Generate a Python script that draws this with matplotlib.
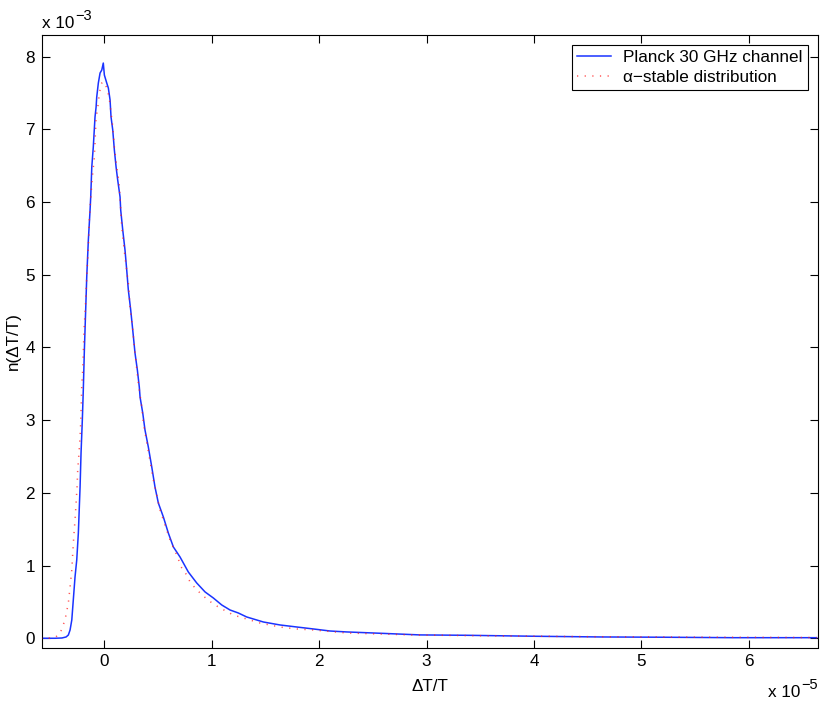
import numpy as np
import matplotlib
matplotlib.use("Agg")
import matplotlib.pyplot as plt
from matplotlib.ticker import FixedLocator, FuncFormatter

plt.rcParams['font.family'] = ['Liberation Sans', 'DejaVu Sans']

# Planck 30 GHz channel histogram (x in units of 1e-5, y in units of 1e-3)
planck_x = [-0.586, -0.456, -0.391, -0.353, -0.332, -0.316, -0.300, -0.286, -0.270, -0.254,
            -0.239, -0.230, -0.223, -0.214, -0.202, -0.193, -0.183, -0.170, -0.161, -0.146,
            -0.130, -0.124, -0.114, -0.100, -0.084, -0.074, -0.068, -0.053, -0.037, -0.021,
            -0.007, 0.003, 0.025, 0.040, 0.056, 0.065, 0.081, 0.096, 0.112, 0.127,
            0.149, 0.155, 0.174, 0.195, 0.211, 0.226, 0.248, 0.267, 0.288, 0.310,
            0.328, 0.335, 0.360, 0.381, 0.412, 0.444, 0.474, 0.505, 0.552, 0.598,
            0.645, 0.707, 0.784, 0.862, 0.940, 1.017, 1.095, 1.172, 1.249, 1.327,
            1.482, 1.637, 1.793, 1.947, 2.102, 2.258, 2.567, 2.940, 3.374, 3.991,
            4.614, 5.234, 5.851, 6.630]
planck_y = [0.000, 0.000, 0.004, 0.018, 0.045, 0.114, 0.252, 0.527, 0.843, 1.077,
            1.448, 1.806, 2.081, 2.549, 3.003, 3.415, 3.966, 4.557, 4.970, 5.479,
            5.891, 6.070, 6.483, 6.758, 7.171, 7.308, 7.446, 7.639, 7.776, 7.817,
            7.913, 7.748, 7.639, 7.570, 7.405, 7.171, 6.992, 6.717, 6.483, 6.304,
            6.070, 5.891, 5.616, 5.341, 5.066, 4.791, 4.516, 4.240, 3.924, 3.690,
            3.457, 3.319, 3.099, 2.865, 2.631, 2.356, 2.081, 1.861, 1.668, 1.448,
            1.256, 1.118, 0.912, 0.761, 0.637, 0.554, 0.458, 0.389, 0.348, 0.293,
            0.224, 0.183, 0.155, 0.128, 0.100, 0.087, 0.069, 0.046, 0.041, 0.028,
            0.018, 0.014, 0.008, 0.008]

# alpha-stable fit
stable_x = [-0.586, -0.530, -0.456, -0.409, -0.363, -0.332, -0.316, -0.300, -0.291, -0.282,
            -0.270, -0.260, -0.251, -0.245, -0.233, -0.223, -0.217, -0.207, -0.198, -0.186,
            -0.170, -0.161, -0.152, -0.142, -0.137, -0.127, -0.109, -0.090, -0.074, -0.053,
            -0.044, -0.021, 0.003, 0.025, 0.047, 0.062, 0.081, 0.096, 0.118, 0.140,
            0.165, 0.195, 0.226, 0.242, 0.267, 0.288, 0.319, 0.351, 0.366, 0.397,
            0.421, 0.459, 0.490, 0.521, 0.567, 0.614, 0.676, 0.723, 0.769, 0.800,
            0.847, 0.893, 0.955, 1.017, 1.079, 1.203, 1.327, 1.451, 1.637, 1.793,
            1.947, 2.258, 2.567, 2.874, 3.500, 4.500, 5.500, 6.630]
stable_y = [0.000, 0.000, 0.011, 0.066, 0.252, 0.486, 0.706, 0.939, 1.173, 1.394,
            1.627, 1.861, 2.081, 2.315, 2.549, 2.769, 2.962, 3.484, 3.691, 4.241,
            4.653, 4.970, 5.203, 5.520, 5.754, 5.988, 6.345, 6.620, 7.157, 7.363,
            7.501, 7.639, 7.652, 7.570, 7.446, 7.267, 7.034, 6.758, 6.483, 6.263,
            5.658, 5.245, 4.887, 4.557, 4.241, 3.924, 3.512, 3.182, 2.962, 2.700,
            2.494, 2.178, 1.971, 1.765, 1.559, 1.352, 1.146, 0.967, 0.871, 0.775,
            0.692, 0.623, 0.541, 0.472, 0.417, 0.320, 0.265, 0.210, 0.155, 0.128,
            0.114, 0.073, 0.059, 0.046, 0.035, 0.022, 0.015, 0.010]

x_ticks = [0, 1, 2, 3, 4, 5, 6]
y_ticks = [0, 1, 2, 3, 4, 5, 6, 7, 8]
series_labels = ['Planck 30 GHz channel', 'α\u2212stable distribution']

XS, YS = 1e-5, 1e-3
FS = 12.3
W, H = 830, 703

fig = plt.figure(figsize=(8.3, 7.03), dpi=100)
ax = fig.add_axes([41.7 / W, (H - 647.5) / H, (818.3 - 41.7) / W, (647.5 - 34.7) / H])

ax.plot(np.array(planck_x) * XS, np.array(planck_y) * YS, color='#1a33ff', lw=1.1,
        label=series_labels[0], zorder=2)
ax.plot(np.array(stable_x) * XS, np.array(stable_y) * YS, color='#ff2020', lw=1.1,
        linestyle=(0, (0.8, 4.2)), alpha=0.75, label=series_labels[1], zorder=3)

ax.set_xlim(-0.580 * XS, 6.645 * XS)
ax.set_ylim(-0.127 * YS, 8.303 * YS)

ax.xaxis.set_major_locator(FixedLocator([t * XS for t in x_ticks]))
ax.yaxis.set_major_locator(FixedLocator([t * YS for t in y_ticks]))
ax.xaxis.set_major_formatter(FuncFormatter(lambda v, p: '%d' % round(v / XS)))
ax.yaxis.set_major_formatter(FuncFormatter(lambda v, p: '%d' % round(v / YS)))

ax.tick_params(direction='in', length=5.5, width=0.8, top=True, right=True,
               labelsize=FS, pad=5)
for s in ax.spines.values():
    s.set_linewidth(0.8)

ax.set_xlabel('ΔT/T', fontsize=FS, labelpad=7)
ax.set_ylabel('n(ΔT/T)', fontsize=FS, labelpad=3)

leg = ax.legend(loc='upper right', fontsize=FS, frameon=True, fancybox=False,
                edgecolor='black', framealpha=1, handlelength=2.0, handletextpad=0.7,
                borderpad=0.3, labelspacing=0.3, borderaxespad=0.6)
leg.get_frame().set_linewidth(0.8)

# scale factors, MATLAB style: "x 10" followed by a raised exponent
renderer = fig.canvas.get_renderer()
EXP_FS = 10.5

def scale_label(x_px, base_px, exponent, align_right=False):
    base = fig.text(x_px / W, 1 - base_px / H, 'x 10', fontsize=FS, ha='left', va='baseline')
    ex = fig.text(0, 1 - (base_px - 8) / H, exponent, fontsize=EXP_FS, ha='left', va='baseline')
    bb = base.get_window_extent(renderer)
    eb = ex.get_window_extent(renderer)
    shift = 0.0
    if align_right:
        total = bb.width + 1.5 + eb.width
        shift = -total
        base.set_x((x_px + shift) / W)
        bb = base.get_window_extent(renderer)
    ex.set_x((bb.x1 + 1.5) / W)

scale_label(41.7, 27.5, '\u22123')
scale_label(818.3, 697, '\u22125', align_right=True)

fig.savefig('out.png', dpi=100)
